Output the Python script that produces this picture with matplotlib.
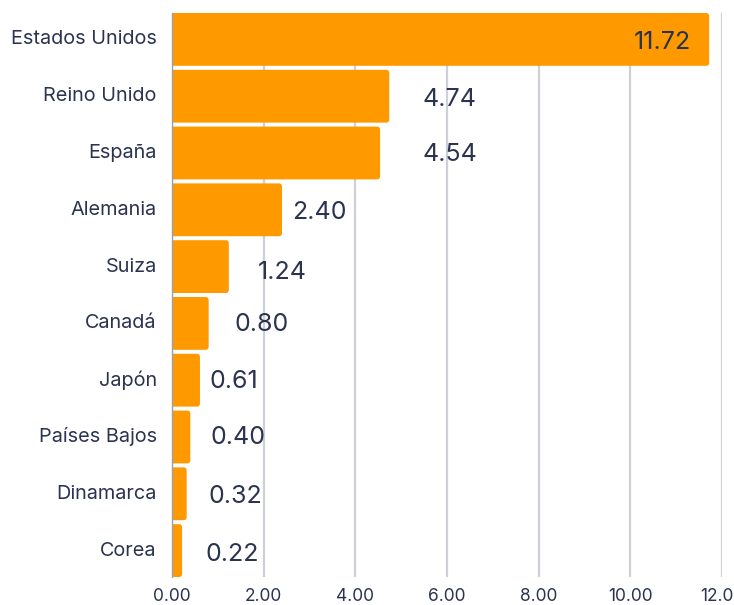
import matplotlib
matplotlib.use("Agg")
import matplotlib.pyplot as plt
from matplotlib.patches import FancyBboxPatch
from matplotlib.transforms import offset_copy, ScaledTranslation

countries = ["Estados Unidos", "Reino Unido", "España", "Alemania", "Suiza",
             "Canadá", "Japón", "Países Bajos", "Dinamarca", "Corea"]
values = [11.72, 4.74, 4.54, 2.40, 1.24, 0.80, 0.61, 0.40, 0.32, 0.22]
xticks = [0, 2, 4, 6, 8, 10, 12]
xtick_labels = ["0.00", "2.00", "4.00", "6.00", "8.00", "10.00", "12.0"]

# label nudges in pixels (x, y) relative to bar end
label_dx = [-18, 33, 42, 10, 29, 26, 10, 20, 22, 23]
label_dy = [-3, -3, -1, -3, -6, -1, -1, -1, -3, -4]

BAR = "#ff9900"
TXT = "#2b3350"
GRID = "#cdd0d6"
FONT = ["Inter", "DejaVu Sans"]

plt.rcParams["font.family"] = FONT

fig = plt.figure(figsize=(7.34, 6.05), dpi=100)
ax = fig.add_axes([172 / 734, 1 - 577 / 605, 550 / 734, 564 / 605])

h = 0.93
ypos = list(range(len(countries)))
bars = ax.barh(ypos, values, height=h, color=BAR, zorder=3)
ax.set_xlim(0, 12)
ax.set_ylim(len(countries) - 1 + h / 2, -h / 2)

# replace with rounded bars
for b in bars:
    x0, y0 = b.get_x(), b.get_y()
    w, hh = b.get_width(), b.get_height()
    b.set_visible(False)
    p = FancyBboxPatch((x0 - 0.2, y0), w + 0.2, hh,
                       boxstyle="round,pad=0,rounding_size=0.07",
                       mutation_aspect=0.82, facecolor=BAR, edgecolor="none",
                       zorder=3, clip_on=True)
    ax.add_patch(p)

ax.set_xticks(xticks)
ax.set_xticklabels(xtick_labels)
ax.set_yticks(ypos)
ax.set_yticklabels(countries, fontsize=14.3)
ax.tick_params(axis="both", length=0, colors=TXT)
ax.tick_params(axis="x", labelsize=12.5, pad=8)
ax.tick_params(axis="y", pad=11)
for lbl in ax.get_yticklabels():
    lbl.set_transform(lbl.get_transform() + ScaledTranslation(0, 2 / 100, fig.dpi_scale_trans))
last = ax.get_xticklabels()[-1]
last.set_horizontalalignment("right")
last.set_transform(last.get_transform() + ScaledTranslation(12 / 100, 0, fig.dpi_scale_trans))

for s in ["top", "right", "bottom"]:
    ax.spines[s].set_visible(False)
ax.spines["left"].set_color("#9aa0ad")
ax.spines["left"].set_linewidth(1.0)
ax.spines["left"].set_zorder(4)

ax.grid(axis="x", color=GRID, linewidth=1.6, zorder=0)
ax.grid(axis="y", visible=False)

for i, v in enumerate(values):
    tr = offset_copy(ax.transData, fig=fig, x=label_dx[i], y=label_dy[i], units="dots")
    ha = "right" if i == 0 else "left"
    ax.text(v, i, f"{v:.2f}", transform=tr, ha=ha, va="center",
            fontsize=18, color=TXT, zorder=5)

fig.savefig("out.png", dpi=100)
